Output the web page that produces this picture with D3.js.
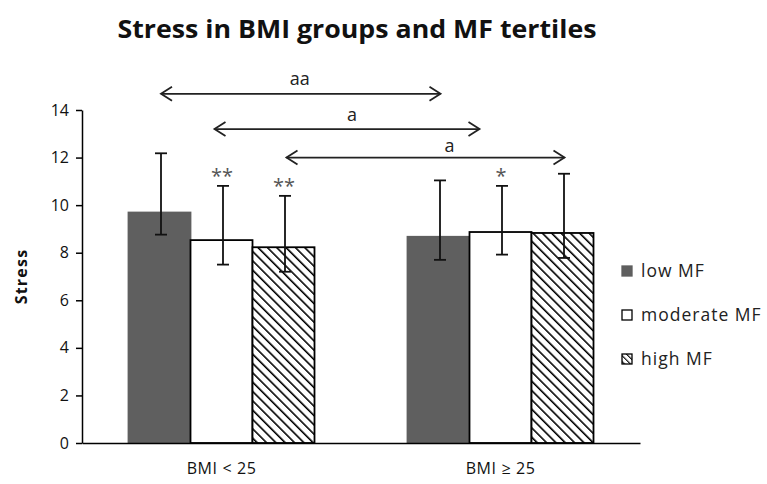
<!DOCTYPE html>
<html><head><meta charset="utf-8">
<script src="https://cdn.jsdelivr.net/npm/d3@7"></script>
<style>body{margin:0;background:#fff}svg{display:block}text{font-family:"Open Sans",sans-serif}</style>
</head><body>
<script>
const groups = ["BMI < 25", "BMI \u2265 25"];
const seriesNames = ["low MF", "moderate MF", "high MF"];
const means = [[9.69, 8.53, 8.23], [8.67, 8.87, 8.83]];
const errLow = [[8.76, 7.50, 7.20], [7.70, 7.92, 7.78]];
const errHigh = [[12.18, 10.81, 10.39], [11.04, 10.81, 11.32]];
const stars = [["", "**", "**"], ["", "*", ""]];
const yTicks = [0, 2, 4, 6, 8, 10, 12, 14];
// arrows: series index compared across BMI groups, y level (stress units), label
const arrowSeries = [0, 1, 2];
const arrowLevels = [14.68, 13.2, 12.0];
const arrowLabels = ["aa", "a", "a"];

const W = 767, H = 484;
const m = {left: 82, right: 127, top: 110, bottom: 41};
const svg = d3.select("body").append("svg").attr("width", W).attr("height", H);

const x0 = d3.scaleBand().domain(groups).range([m.left, W - m.right]).paddingInner(0).paddingOuter(0);
const x1 = d3.scaleBand().domain(seriesNames).range([0, x0.bandwidth()]).paddingOuter(0.75).paddingInner(0);
const y = d3.scaleLinear().domain([0, 14]).range([H - m.bottom, m.top]);

const defs = svg.append("defs");
const pat = defs.append("pattern").attr("id", "hatch").attr("patternUnits", "userSpaceOnUse")
  .attr("width", 6.6).attr("height", 6.6).attr("patternTransform", "rotate(-45)");
pat.append("rect").attr("width", 6.6).attr("height", 6.6).attr("fill", "#fff");
pat.append("line").attr("x1", 0).attr("y1", -1).attr("x2", 0).attr("y2", 8).attr("stroke", "#000").attr("stroke-width", 3.2);
const pat2 = defs.append("pattern").attr("id", "hatchSmall").attr("patternUnits", "userSpaceOnUse")
  .attr("width", 4.2).attr("height", 4.2).attr("patternTransform", "rotate(-45)");
pat2.append("rect").attr("width", 4.2).attr("height", 4.2).attr("fill", "#fff");
pat2.append("line").attr("x1", 0).attr("y1", -1).attr("x2", 0).attr("y2", 6).attr("stroke", "#000").attr("stroke-width", 2.2);

const fills = ["#5f5f5f", "#fff", "url(#hatch)"];
const strokes = ["#5f5f5f", "#000", "#000"];

// title
svg.append("text").attr("x", 357).attr("y", 38).attr("text-anchor", "middle")
  .attr("font-size", 25).attr("font-weight", "bold").attr("fill", "#111")
  .attr("font-family", "Lato")
  .attr("textLength", 479).attr("lengthAdjust", "spacingAndGlyphs")
  .text("Stress in BMI groups and MF tertiles");

// bars
groups.forEach((g, gi) => {
  const gx = x0(g);
  seriesNames.forEach((s, si) => {
    svg.append("rect").attr("x", gx + x1(s)).attr("y", y(means[gi][si]))
      .attr("width", x1.bandwidth()).attr("height", y(0) - y(means[gi][si]))
      .attr("fill", fills[si]).attr("stroke", strokes[si]).attr("stroke-width", 1.8);
  });
});
// error bars
groups.forEach((g, gi) => {
  seriesNames.forEach((s, si) => {
    const cx = x0(g) + x1(s) + x1.bandwidth() / 2 + 1.5;
    const e = svg.append("g").attr("stroke", "#111").attr("stroke-width", 1.8);
    e.append("line").attr("x1", cx).attr("x2", cx).attr("y1", y(errLow[gi][si])).attr("y2", y(errHigh[gi][si]));
    [errLow[gi][si], errHigh[gi][si]].forEach(v => {
      e.append("line").attr("x1", cx - 6).attr("x2", cx + 6).attr("y1", y(v)).attr("y2", y(v));
    });
    if (stars[gi][si]) {
      svg.append("text").attr("x", cx - 1).attr("y", y(errHigh[gi][si]) - 3).attr("text-anchor", "middle")
        .attr("font-size", 20).attr("fill", "#555").text(stars[gi][si]);
    }
  });
});

// axes
const yAxis = svg.append("g").attr("transform", `translate(${m.left},0)`)
  .call(d3.axisLeft(y).tickValues(yTicks).tickSize(6).tickPadding(7).tickSizeOuter(0));
yAxis.select(".domain").attr("stroke", "#000").attr("stroke-width", 1.5);
yAxis.selectAll(".tick line").attr("stroke", "#000").attr("stroke-width", 1.5);
yAxis.selectAll(".tick text").attr("font-size", 16).attr("fill", "#111").attr("font-family", "Open Sans");

const xAxis = svg.append("g").attr("transform", `translate(0,${y(0)})`)
  .call(d3.axisBottom(x0).tickSize(0).tickPadding(20).tickSizeOuter(0));
xAxis.select(".domain").attr("stroke", "#000").attr("stroke-width", 1.5);
xAxis.selectAll(".tick text").attr("font-size", 16).attr("fill", "#111").attr("font-family", "Open Sans")
  .attr("letter-spacing", 0.6);

svg.append("text").attr("transform", `translate(27,${y(7)}) rotate(-90)`).attr("text-anchor", "middle")
  .attr("font-size", 16).attr("font-weight", "bold").attr("fill", "#111").attr("letter-spacing", 1.2).text("Stress");

// comparison arrows (offsets in px from bar centres)
const arrowOffsets = [[1.5, 2], [-7, -21], [3, 2]];
const labelShift = [-1, 5, 24];
const labelRaise = [9, 8, 6];
arrowSeries.forEach((si, i) => {
  const s = seriesNames[si];
  const xa = x0(groups[0]) + x1(s) + x1.bandwidth() / 2 + arrowOffsets[i][0];
  const xb = x0(groups[1]) + x1(s) + x1.bandwidth() / 2 + arrowOffsets[i][1];
  const yy = y(arrowLevels[i]);
  const a = svg.append("g").attr("stroke", "#222").attr("stroke-width", 1.8).attr("fill", "none");
  a.append("line").attr("x1", xa).attr("x2", xb).attr("y1", yy).attr("y2", yy);
  a.append("path").attr("d", `M${xa + 11},${yy - 7}L${xa},${yy}L${xa + 11},${yy + 7}`);
  a.append("path").attr("d", `M${xb - 11},${yy - 7}L${xb},${yy}L${xb - 11},${yy + 7}`);
  svg.append("text").attr("x", (xa + xb) / 2 + labelShift[i]).attr("y", yy - labelRaise[i]).attr("text-anchor", "middle")
    .attr("font-size", 18).attr("fill", "#222").text(arrowLabels[i]);
});

// legend
const lg = svg.append("g").attr("transform", "translate(622,0)");
const legY = [271, 315, 359];
const legFills = ["#5f5f5f", "#fff", "url(#hatchSmall)"];
seriesNames.forEach((s, i) => {
  lg.append("rect").attr("x", 0).attr("y", legY[i] - 5).attr("width", 10).attr("height", 10)
    .attr("fill", legFills[i]).attr("stroke", i === 0 ? "#5f5f5f" : "#000").attr("stroke-width", 1.3);
  lg.append("text").attr("x", 19).attr("y", legY[i] + 6).attr("font-size", 17.5).attr("letter-spacing", 1)
    .attr("fill", "#222").text(s);
});
</script>
</body></html>
